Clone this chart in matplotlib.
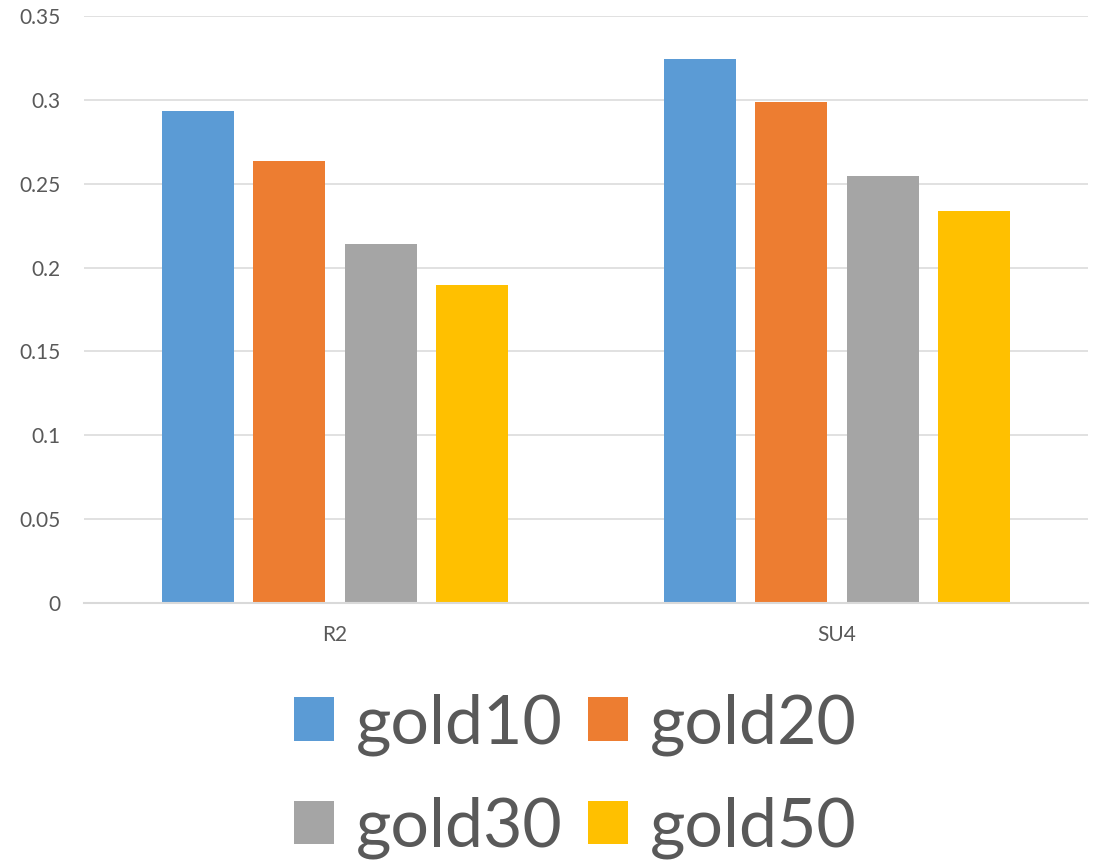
import matplotlib
matplotlib.use("Agg")
import matplotlib.pyplot as plt
import numpy as np

categories = ["R2", "SU4"]
series_names = ["gold10", "gold20", "gold30", "gold50"]
gold10 = [0.2934, 0.3242]
gold20 = [0.2634, 0.2987]
gold30 = [0.2139, 0.2548]
gold50 = [0.1894, 0.2339]
yticks = [0, 0.05, 0.1, 0.15, 0.2, 0.25, 0.3, 0.35]
ytick_labels = ["0", "0.05", "0.1", "0.15", "0.2", "0.25", "0.3", "0.35"]

colors = ["#5B9BD5", "#ED7D31", "#A5A5A5", "#FFC000"]
text_color = "#595959"
grid_color = "#D9D9D9"

plt.rcParams["font.family"] = ["Lato", "DejaVu Sans"]

fig = plt.figure(figsize=(10.96, 8.6), dpi=100)
ax = fig.add_axes([84 / 1096, 1 - 603 / 860, (1088 - 84) / 1096, (603 - 16) / 860])

x = np.arange(len(categories))
bar_w = 0.1434
step = 0.182
handles = []
for i, (name, vals) in enumerate(zip(series_names, [gold10, gold20, gold30, gold50])):
    h = ax.bar(x + (i - 1.5) * step, vals, width=bar_w, color=colors[i],
               label=name, zorder=3, linewidth=0)
    handles.append(h)

ax.set_xlim(-0.5, 1.5)
ax.set_ylim(0, 0.35)
ax.set_yticks(yticks)
ax.set_yticklabels(ytick_labels)
ax.set_xticks(x)
ax.set_xticklabels(categories)
ax.tick_params(axis="y", length=0, pad=17, labelsize=15, labelcolor=text_color)
ax.tick_params(axis="x", length=0, pad=16, labelsize=15, labelcolor=text_color)

ax.grid(axis="y", color=grid_color, linewidth=1.1, zorder=0)
for s in ["left", "right", "top"]:
    ax.spines[s].set_visible(False)
ax.spines["bottom"].set_color(grid_color)
ax.spines["bottom"].set_linewidth(1.5)
ax.spines["bottom"].set_zorder(4)

# legend entries laid out row by row (matplotlib fills columns first)
order = [0, 2, 1, 3]
leg = fig.legend(handles=[handles[k] for k in order],
                 labels=[series_names[k] for k in order], ncol=2,
                 loc="center", bbox_to_anchor=(575 / 1096, 1 - 776 / 860),
                 frameon=False, fontsize=49, labelcolor=text_color,
                 handlelength=0.6, handleheight=0.6, handletextpad=0.31,
                 columnspacing=0.37, labelspacing=0.6, borderpad=0)

fig.savefig("out.png", dpi=100, facecolor="white")
